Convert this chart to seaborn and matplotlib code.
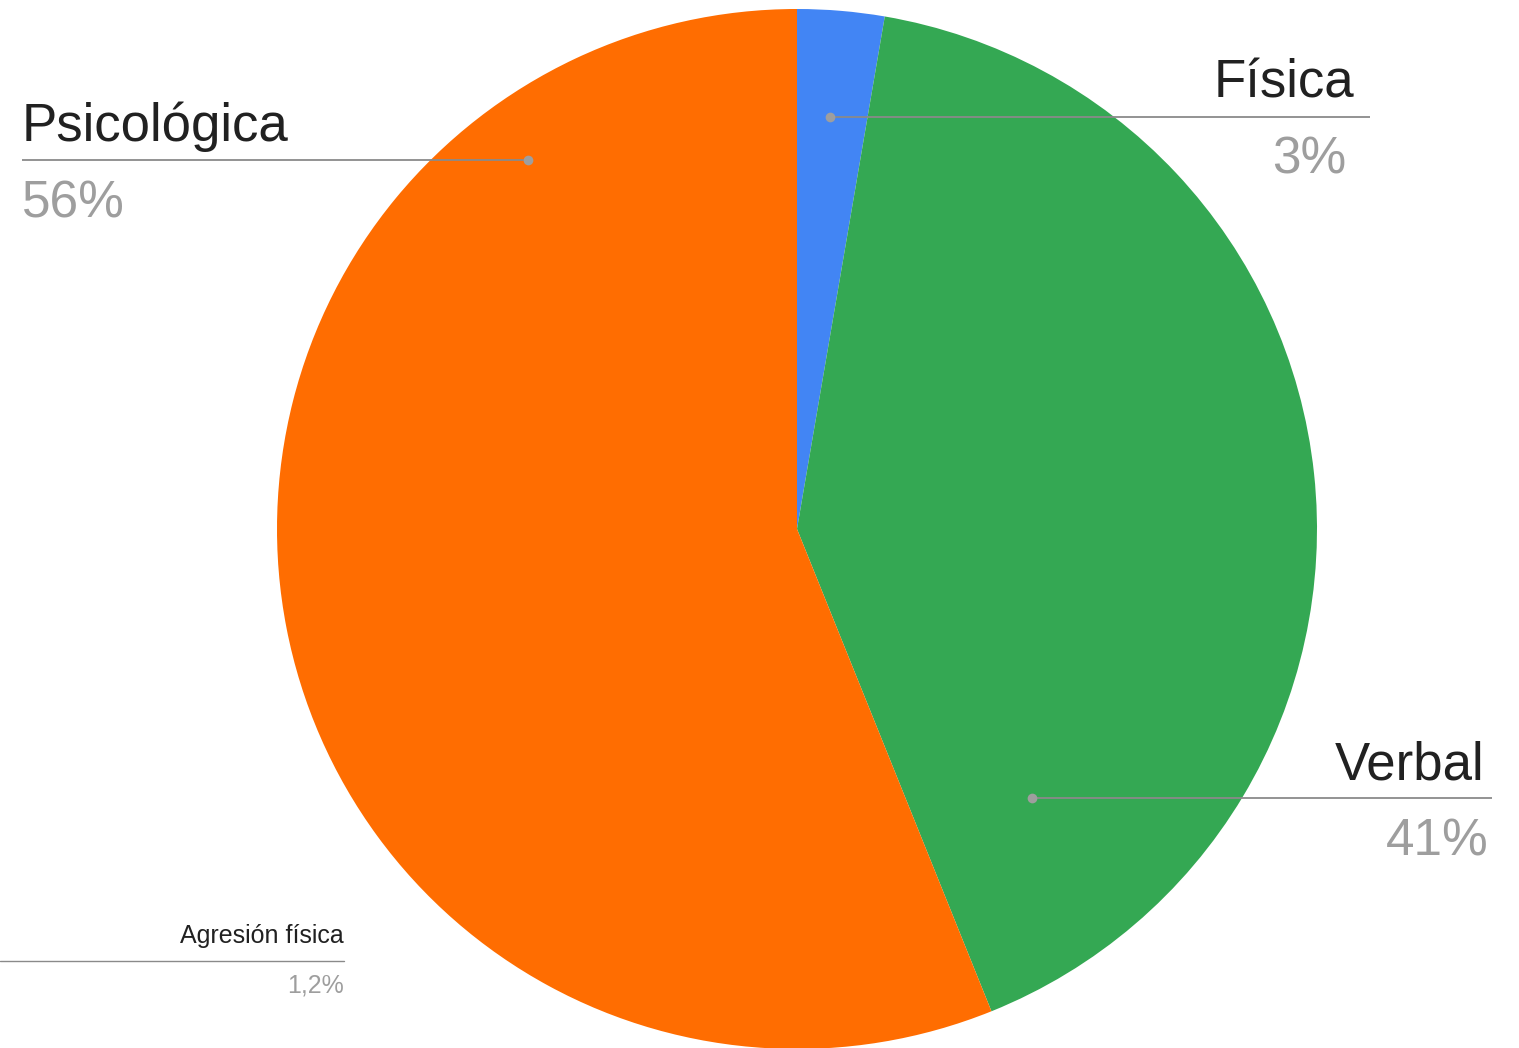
import matplotlib
matplotlib.use("Agg")
import matplotlib.pyplot as plt
import seaborn as sns

# data (share of answers, %)
categories = ["Física", "Verbal", "Psicológica"]
values = [2.7, 41.2, 56.1]
colors = ["#4285F4", "#34A853", "#FF6D01"]

# stray label left over in the original image
extra_label = "Agresión física"
extra_value = "1,2%"

sns.set_style("white")
plt.rcParams['font.family'] = ['Liberation Sans', 'DejaVu Sans']

W, H = 1519, 1048
fig = plt.figure(figsize=(W / 100, H / 100), dpi=100)
ax = fig.add_axes([0, 0, 1, 1])

# with the y axis flipped, counterclock=True runs clockwise on screen
ax.pie(values, colors=colors, startangle=-90, counterclock=True,
       center=(797, 529), radius=520, frame=True,
       wedgeprops=dict(linewidth=0))
ax.set_xlim(0, W)
ax.set_ylim(H, 0)  # pixel-like coords, y grows downward
ax.set_aspect("equal")
ax.axis("off")

line_col = "#8a8a8a"
dot_col = "#9e9e9e"
txt_col = "#212121"
pct_col = "#9e9e9e"

# leader layout: (dot x, dot y, line end x, text anchor x, ha)
layout = {
    "Física": (830, 117, 1370, 1354, "right"),
    "Verbal": (1032, 798, 1492, 1484, "right"),
    "Psicológica": (528, 160, 22, 22, "left"),
}
pct_shift = {"Física": -8, "Verbal": 5, "Psicológica": 0}

for cat, val in zip(categories, values):
    dx, dy, lx, tx, ha = layout[cat]
    ax.plot([dx, lx], [dy, dy], color=line_col, lw=1.3, solid_capstyle="butt")
    ax.plot(dx, dy, "o", color=dot_col, ms=7, mec="none")
    ax.text(tx, dy - 19, cat, ha=ha, va="baseline", fontsize=38, color=txt_col)
    ax.text(tx + pct_shift[cat], dy + 57, f"{round(val)}%", ha=ha, va="baseline",
            fontsize=37, color=pct_col)

# small label at bottom left
ax.plot([0, 344], [961, 961], color=line_col, lw=1)
ax.text(344, 943, extra_label, ha="right", va="baseline", fontsize=18, color=txt_col)
ax.text(344, 992, extra_value, ha="right", va="baseline", fontsize=18, color=pct_col)

fig.savefig("out.png", dpi=100, facecolor="white")
